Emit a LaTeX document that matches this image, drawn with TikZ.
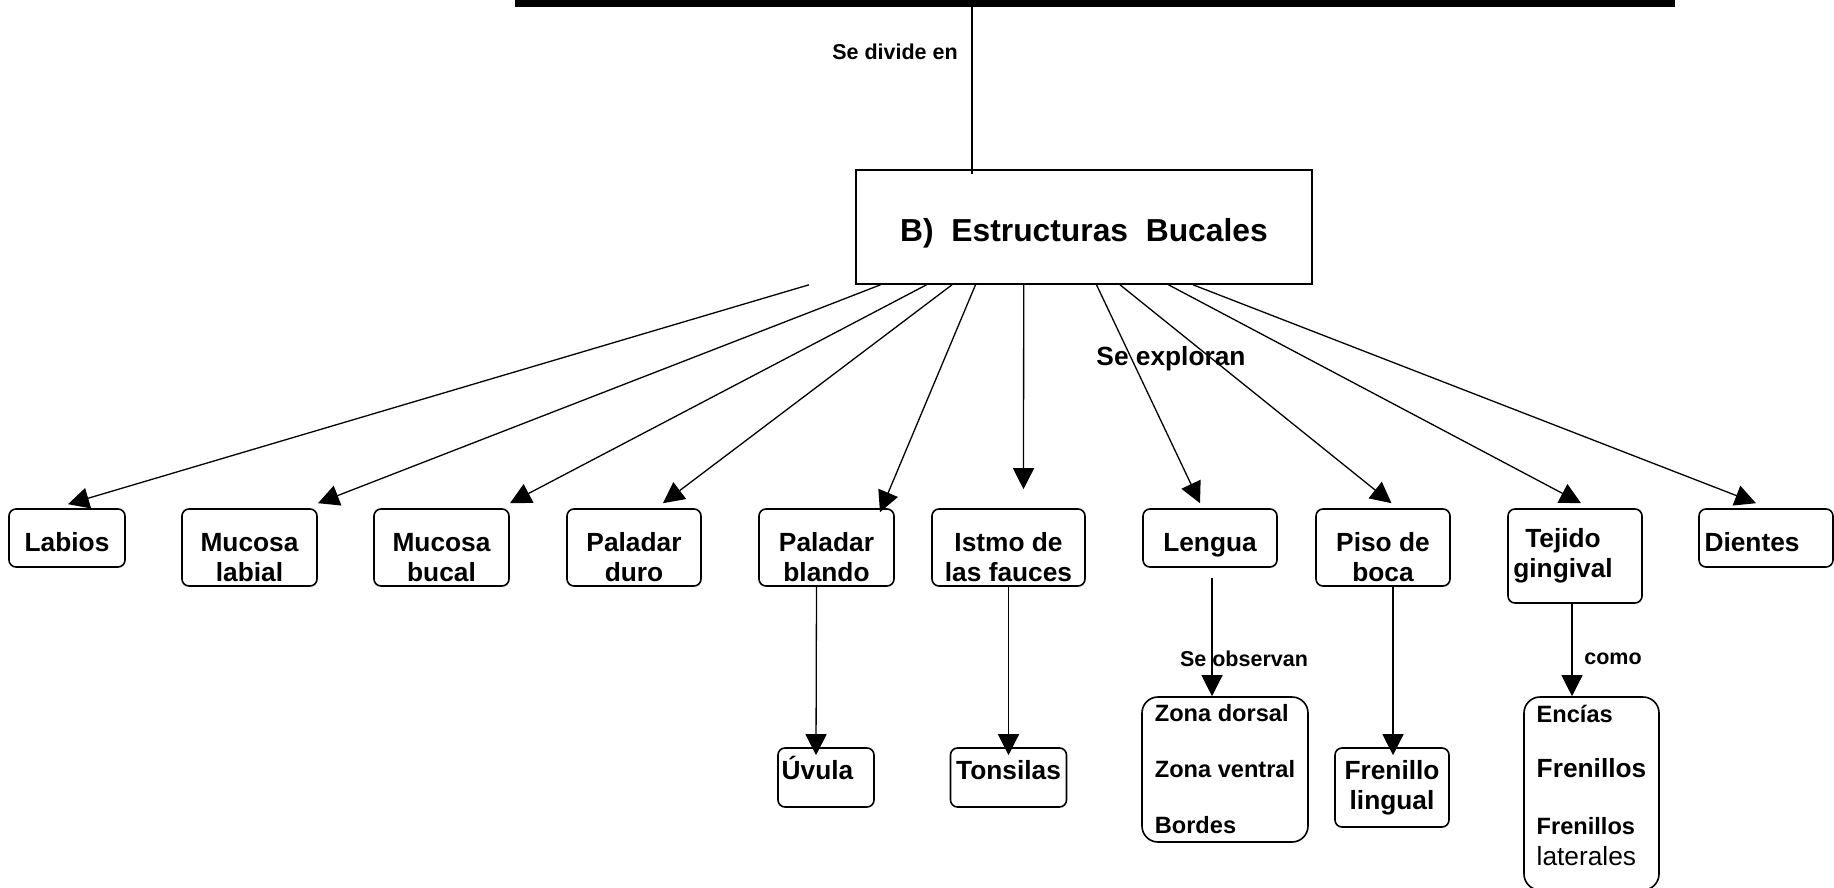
\documentclass[tikz,border=0pt]{standalone}
\usepackage{fontspec}
\setmainfont{Liberation Sans}
\usetikzlibrary{arrows.meta}
\newcommand\up{\rule{0pt}{37.8pt}}

\begin{document}
\begin{tikzpicture}[x=1pt, y=-1pt,
    box/.style={draw, rounded corners=7pt, line width=1.6pt, inner sep=2pt, align=center,
        font=\bfseries\fontsize{26.3}{30}\selectfont},
    one/.style={text height=27pt, text depth=0pt},
    lbl/.style={inner sep=0, text depth=0pt, font=\bfseries\fontsize{21.5}{25}\selectfont},
    link/.style={line width=1.3pt},
    arrow/.style={line width=1.3pt, -{Triangle[length=21pt,width=21pt]}}]
    \useasboundingbox (0,0) rectangle (1834,888);
    \node[fill, inner sep=0, minimum width=1160pt, minimum height=7pt] (top) at (1095,3.5) {};
    \node[draw, line width=1.6pt, minimum width=456pt, minimum height=114pt, text height=29pt, text depth=0pt,
        font=\bfseries\fontsize{31.8}{36}\selectfont] (estr) at (1084,227) {B)\ \ Estructuras\ \ Bucales};
    \node[lbl] (divide) at (895,52) {Se divide en};
    \draw[link] (top.south -| 972,0) -- (estr.north -| 972,0) -- ++(0,5);

    \node[box, one, minimum width=116pt, minimum height=58pt] (lab) at (67,538) {Labios};
    \node[box, minimum width=135pt, minimum height=77pt] (mlab) at (249.5,547.5) {\up Mucosa\\labial};
    \node[box, minimum width=135pt, minimum height=77pt] (mbuc) at (441.5,547.5) {\up Mucosa\\bucal};
    \node[box, minimum width=134pt, minimum height=77pt] (pdur) at (634,547.5) {\up Paladar\\duro};
    \node[box, minimum width=135pt, minimum height=77pt] (pbla) at (826.5,547.5) {\up Paladar\\blando};
    \node[box, minimum width=153pt, minimum height=77pt] (istm) at (1008.5,547.5) {\up Istmo de\\las fauces};
    \node[box, one, minimum width=134pt, minimum height=58pt] (leng) at (1210,538) {Lengua};
    \node[box, minimum width=134pt, minimum height=77pt] (piso) at (1383,547.5) {\up Piso de\\boca};
    \node[box, minimum width=134pt, minimum height=94pt] (teji) at (1575,556) {Tejido\hspace*{24pt}\\gingival\hspace*{24pt}};
    \node[box, one, minimum width=134pt, minimum height=58pt] (dien) at (1766,538) {Dientes\hspace*{28pt}};
    \node[lbl, font=\bfseries\fontsize{26.3}{30}\selectfont] (explor) at (1171,356) {Se exploran};

    \foreach \sx/\dx/\dy/\tgt in {809/1/4/lab, 880.5/68.5/5/mlab, 926.5/68.5/5/mbuc, 952/29/5/pdur,
        975.5/53.5/-4/pbla, 1023.7/15/19/istm, 1096.5/-10/5/leng, 1120/8.5/5/piso, 1168.5/6/5/teji, 1193/-10/5/dien}
        \draw[arrow] (estr.south -| \sx,0) -- ([xshift=\dx pt, yshift=\dy pt]\tgt.north);

    \node[box, minimum width=96pt, minimum height=59pt, text height=24pt, text depth=20pt] (uvul) at (826,777.5) {Úvula\hspace*{17pt}};
    \node[box, minimum width=116pt, minimum height=59pt, text height=24pt, text depth=20pt] (tons) at (1008.5,777.5) {Tonsilas};
    \node[box, rounded corners=16pt, align=left, minimum width=166pt, minimum height=145pt,
        font=\bfseries\fontsize{23.6}{56}\selectfont] (zona) at (1225,769.5) {Zona dorsal\\Zona ventral\\Bordes};
    \node[box, minimum width=114pt, minimum height=79pt] (fren) at (1392,787.5) {Frenillo\\lingual};
    \node[box, rounded corners=16pt, align=left, minimum width=135pt, minimum height=193pt,
        font=\bfseries\fontsize{23.6}{31}\selectfont] (enci) at (1591.5,793.5)
        {Encías\\[24pt]{\fontsize{26.3}{31}\selectfont Frenillos}\\[26pt]Frenillos\\{\mdseries\fontsize{26.3}{31}\selectfont laterales}\rule[-17pt]{0pt}{17pt}};
    \node[lbl] (observ) at (1244,659) {Se observan};
    \node[lbl] (como) at (1613,659) {como};

    \draw[arrow] ([xshift=-10pt]pbla.south) -- ([xshift=-10pt, yshift=-8pt]uvul.north);
    \draw[arrow] (istm.south) -- ([yshift=-8pt]tons.north);
    \draw[arrow] ([xshift=2pt, yshift=-10pt]leng.south) -- ([xshift=-13pt]zona.north);
    \draw[arrow] ([xshift=10pt]piso.south) -- ([xshift=1pt, yshift=-8pt]fren.north);
    \draw[arrow] ([xshift=-3pt]teji.south) -- ([xshift=-19.5pt]enci.north);
\end{tikzpicture}
\end{document}
